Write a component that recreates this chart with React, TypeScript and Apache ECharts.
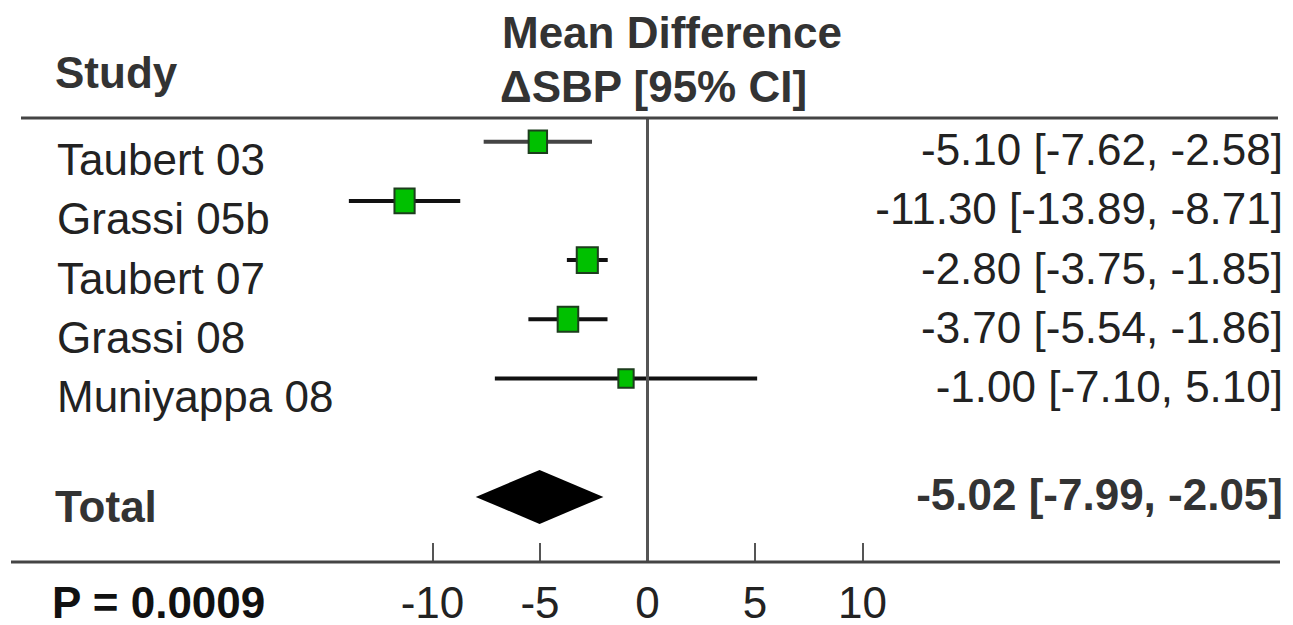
import React, { useEffect, useRef } from "react";
import * as echarts from "echarts";

const studies = ["Taubert 03", "Grassi 05b", "Taubert 07", "Grassi 08", "Muniyappa 08"];
const meanDiff = [-5.1, -11.3, -2.8, -3.7, -1.0];
const ciLow = [-7.62, -13.89, -3.75, -5.54, -7.1];
const ciHigh = [-2.58, -8.71, -1.85, -1.86, 5.1];
const weights = [18.3, 22.0, 24.1, 22.9, 12.7];
const studyRows = [0, 1, 2, 3, 4];

const totalLabel = "Total";
const totalMean = -5.02;
const totalLow = -7.99;
const totalHigh = -2.05;
const totalRow = 6;

const tickValues = [-10, -5, 0, 5, 10];
const pValueText = "P = 0.0009";

const FONT = "'Liberation Sans', Arial, sans-serif";
const fmt = (v: number) => v.toFixed(2);

export default function App() {
  const ref = useRef<HTMLDivElement>(null);
  useEffect(() => {
    if (!ref.current) return;
    const chart = echarts.init(ref.current, undefined, { renderer: "svg" });

    const studyData = studies.map((s, i) => [meanDiff[i], ciLow[i], ciHigh[i], studyRows[i], weights[i]]);

    const option: any = {
      animation: false,
      backgroundColor: "#ffffff",
      grid: { left: 325, right: 323, top: 118, bottom: 63 },
      xAxis: {
        type: "value",
        position: "bottom",
        min: -15,
        max: 15,
        axisLine: { show: false, onZero: false },
        splitLine: { show: false },
        axisTick: {
          show: true,
          inside: true,
          length: 19,
          customValues: tickValues,
          lineStyle: { color: "#555", width: 2 },
        },
        axisLabel: {
          show: true,
          customValues: tickValues,
          fontSize: 44,
          fontFamily: FONT,
          color: "#222",
          margin: 18,
        },
      },
      yAxis: {
        type: "value",
        min: -0.4,
        max: 7.1,
        inverse: true,
        show: false,
      },
      graphic: [
        { type: "line", shape: { x1: 21, y1: 118, x2: 1278, y2: 118 }, style: { stroke: "#444", lineWidth: 3 }, z: 10 },
        { type: "line", shape: { x1: 11, y1: 562, x2: 1280, y2: 562 }, style: { stroke: "#444", lineWidth: 3 }, z: 10 },
        { type: "text", x: 55, y: 72, style: { text: "Study", font: `bold 44px ${FONT}`, fill: "#333", verticalAlign: "middle", align: "left" } },
        { type: "text", x: 502, y: 32, style: { text: "Mean Difference", font: `bold 44px ${FONT}`, fill: "#333", verticalAlign: "middle", align: "left" } },
        { type: "text", x: 500, y: 86, style: { text: "ΔSBP [95% CI]", font: `bold 44px ${FONT}`, fill: "#333", verticalAlign: "middle", align: "left" } },
        { type: "text", x: 52, y: 602, style: { text: pValueText, font: `bold 44px ${FONT}`, fill: "#111", verticalAlign: "middle", align: "left" } },
      ],
      series: [
        {
          type: "custom",
          name: "studies",
          data: studyData,
          encode: { x: [0, 1, 2], y: 3 },
          renderItem: (params: any, api: any) => {
            const est = api.value(0);
            const lo = api.value(1);
            const hi = api.value(2);
            const row = api.value(3);
            const w = api.value(4);
            const pEst = api.coord([est, row]);
            const pLo = api.coord([lo, row]);
            const pHi = api.coord([hi, row]);
            const side = Math.sqrt(w) * 4.3;
            const hgt = side * 1.22;
            const i = params.dataIndex;
            return {
              type: "group",
              children: [
                {
                  type: "line",
                  shape: { x1: pLo[0], y1: pLo[1], x2: pHi[0], y2: pHi[1] },
                  style: { stroke: i === 0 ? "#444" : "#111", lineWidth: 4 },
                },
                {
                  type: "rect",
                  shape: { x: pEst[0] - side / 2, y: pEst[1] - hgt / 2, width: side, height: hgt },
                  style: { fill: "#00c000", stroke: "#1d3d1d", lineWidth: 2 },
                },
                {
                  type: "text",
                  x: 57,
                  y: pEst[1] + 18,
                  style: { text: studies[i], font: `44px ${FONT}`, fill: "#222", verticalAlign: "middle", align: "left" },
                },
                {
                  type: "text",
                  x: 1283,
                  y: pEst[1] + 8,
                  style: {
                    text: `${fmt(meanDiff[i])} [${fmt(ciLow[i])}, ${fmt(ciHigh[i])}]`,
                    font: `44px ${FONT}`,
                    fill: "#222",
                    verticalAlign: "middle",
                    align: "right",
                  },
                },
              ],
            };
          },
          markLine: {
            silent: true,
            symbol: "none",
            label: { show: false },
            lineStyle: { color: "#555", width: 3, type: "solid" },
            data: [{ xAxis: 0 }],
          },
        },
        {
          type: "custom",
          name: "total",
          data: [[totalMean, totalLow, totalHigh, totalRow]],
          encode: { x: [0, 1, 2], y: 3 },
          renderItem: (params: any, api: any) => {
            const pEst = api.coord([api.value(0), api.value(3)]);
            const pLo = api.coord([api.value(1), api.value(3)]);
            const pHi = api.coord([api.value(2), api.value(3)]);
            const half = 27;
            return {
              type: "group",
              children: [
                {
                  type: "polygon",
                  shape: {
                    points: [
                      [pLo[0], pLo[1]],
                      [pEst[0], pEst[1] - half],
                      [pHi[0], pHi[1]],
                      [pEst[0], pEst[1] + half],
                    ],
                  },
                  style: { fill: "#000" },
                },
                {
                  type: "text",
                  x: 55,
                  y: pEst[1] + 10,
                  style: { text: totalLabel, font: `bold 44px ${FONT}`, fill: "#333", verticalAlign: "middle", align: "left" },
                },
                {
                  type: "text",
                  x: 1283,
                  y: pEst[1] - 2,
                  style: {
                    text: `${fmt(totalMean)} [${fmt(totalLow)}, ${fmt(totalHigh)}]`,
                    font: `bold 44px ${FONT}`,
                    fill: "#333",
                    verticalAlign: "middle",
                    align: "right",
                  },
                },
              ],
            };
          },
        },
      ],
    };
    chart.setOption(option);
    return () => chart.dispose();
  }, []);
  return <div ref={ref} style={{ position: "absolute", left: 0, top: 0, width: 1293, height: 625 }} />;
}
